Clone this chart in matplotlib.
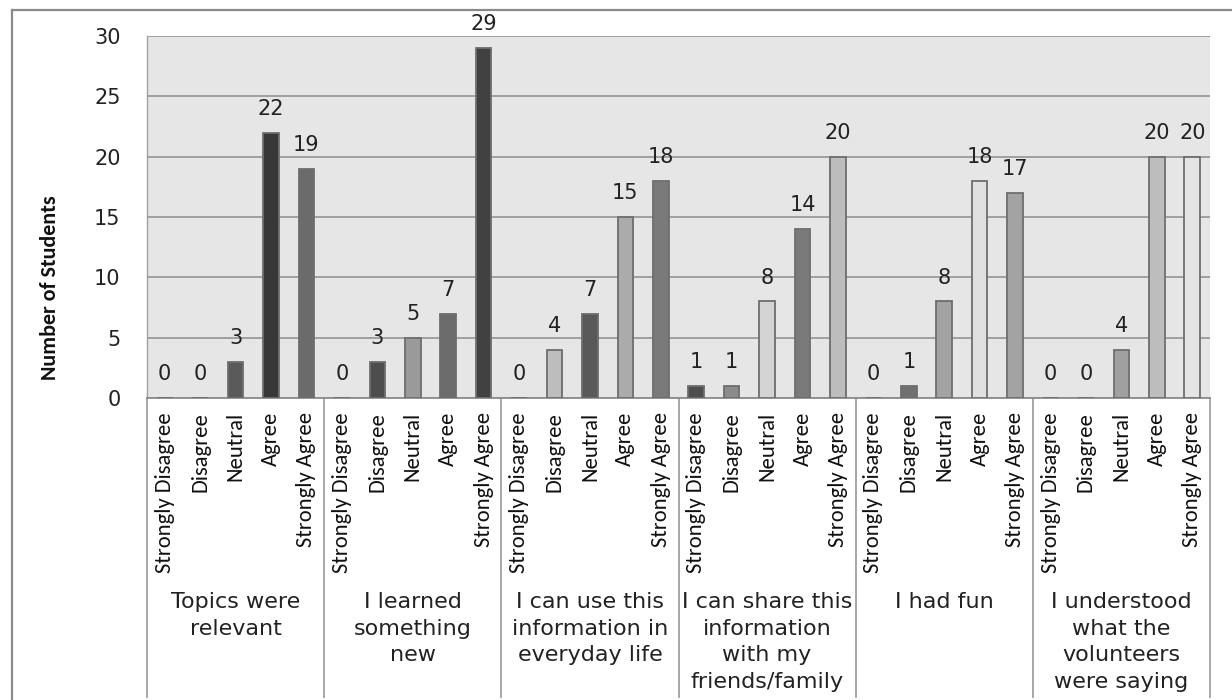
import matplotlib
matplotlib.use("Agg")
import matplotlib.pyplot as plt
from matplotlib import font_manager as fm
from matplotlib.lines import Line2D
import matplotlib.transforms as mtransforms

# ---------------- data ----------------
statements = [
    "Topics were\nrelevant",
    "I learned\nsomething\nnew",
    "I can use this\ninformation in\neveryday life",
    "I can share this\ninformation\nwith my\nfriends/family",
    "I had fun",
    "I understood\nwhat the\nvolunteers\nwere saying",
]
responses = ["Strongly Disagree", "Disagree", "Neutral", "Agree", "Strongly Agree"]
topics_relevant = [0, 0, 3, 22, 19]
learned_new = [0, 3, 5, 7, 29]
use_everyday = [0, 4, 7, 15, 18]
share_info = [1, 1, 8, 14, 20]
had_fun = [0, 1, 8, 18, 17]
understood = [0, 0, 4, 20, 20]
y_ticks = [0, 5, 10, 15, 20, 25, 30]
y_label = "Number of Students"

series = [topics_relevant, learned_new, use_everyday, share_info, had_fun, understood]
bar_colors = [
    ["#5a5a5a", "#5a5a5a", "#5a5a5a", "#383838", "#6b6b6b"],
    ["#4d4d4d", "#4d4d4d", "#9a9a9a", "#6b6b6b", "#414141"],
    ["#bdbdbd", "#bdbdbd", "#595959", "#ababab", "#7a7a7a"],
    ["#4d4d4d", "#8c8c8c", "#d4d4d4", "#7a7a7a", "#bdbdbd"],
    ["#707070", "#707070", "#a3a3a3", "#e0e0e0", "#a3a3a3"],
    ["#a0a0a0", "#a0a0a0", "#a0a0a0", "#bdbdbd", "#e4e4e4"],
]

# ---------------- fonts ----------------
flist = fm.fontManager.ttflist
names = {f.name for f in flist}
narrow_stretch = "normal"
if "Carlito" in names:
    narrow_family = "Carlito"
    tick_fs, ylab_fs = 16.2, 15.8
elif any(f.name == "DejaVu Sans" and f.stretch in ("condensed", "semi-condensed") for f in flist):
    narrow_family = "DejaVu Sans"
    narrow_stretch = "condensed"
    tick_fs, ylab_fs = 14.5, 13
else:
    narrow_family = "Lato"
    tick_fs, ylab_fs = 14, 13

W, H = 1232, 700
fig = plt.figure(figsize=(W / 100, H / 100), dpi=100)
fig.patch.set_facecolor("white")

left, right, top, bottom = 147, 1210, 36, 398
ax = fig.add_axes([left / W, 1 - bottom / H, (right - left) / W, (bottom - top) / H])
ax.set_facecolor("#e6e6e6")

n_resp = len(responses)
positions, heights, colors, labels = [], [], [], []
for g, vals in enumerate(series):
    for i, v in enumerate(vals):
        positions.append(g * n_resp + i)
        heights.append(v)
        colors.append(bar_colors[g][i])
        labels.append(responses[i])

ax.set_xlim(-0.5, len(series) * n_resp - 0.5)
ax.set_ylim(0, 30)
ax.set_yticks(y_ticks)
ax.yaxis.grid(True, color="#8c8c8c", linewidth=1.1)
ax.set_axisbelow(True)

bars = ax.bar(positions, heights, width=0.44, color=colors, edgecolor="#6e6e6e",
              linewidth=1.3, zorder=3)
for x, h in zip(positions, heights):
    ax.annotate(str(h), (x, h), xytext=(0, 10), textcoords="offset points",
                ha="center", va="bottom", fontsize=15, color="#222222",
                family="DejaVu Sans")

for s in ["top", "right"]:
    ax.spines[s].set_visible(False)
ax.spines["left"].set_color("#a0a0a0")
ax.spines["bottom"].set_color("#8c8c8c")
ax.spines["left"].set_linewidth(1.0)
ax.spines["bottom"].set_linewidth(1.3)

ax.tick_params(axis="both", length=0)
ax.tick_params(axis="y", pad=19, labelsize=15, labelcolor="#222222")
ax.set_yticklabels([str(t) for t in y_ticks], family="DejaVu Sans")
ax.set_xticks(positions)
ax.set_xticklabels(labels, rotation=90, ha="center", va="top", fontsize=tick_fs,
                   family=narrow_family, fontstretch=narrow_stretch, color="#111111")
ax.tick_params(axis="x", pad=10)

# group separators below the axis
trans = mtransforms.blended_transform_factory(ax.transData, ax.transAxes)
sep_bottom = -(697 - bottom) / (bottom - top)
for g in range(len(series) + 1):
    xs = g * n_resp - 0.5
    ax.add_line(Line2D([xs, xs], [0, sep_bottom], transform=trans, color="#a0a0a0",
                       linewidth=1.3, clip_on=False))

# category labels
for g, name in enumerate(statements):
    xc = g * n_resp + (n_resp - 1) / 2
    ax.text(xc, -(592 - bottom) / (bottom - top), name, transform=trans, ha="center",
            va="top", fontsize=16, family="DejaVu Sans", color="#222222",
            linespacing=1.42, multialignment="center")

fig.text(50 / W, 1 - 288 / H, y_label, rotation=90, ha="center", va="center",
         fontsize=ylab_fs, fontweight="bold", family=narrow_family,
         fontstretch=narrow_stretch, color="#111111")

# outer border (left and top visible)
fig.add_artist(Line2D([12 / W, 12 / W], [0, 1 - 10 / H], transform=fig.transFigure,
                      color="#8a8a8a", linewidth=1.6))
fig.add_artist(Line2D([12 / W, 1], [1 - 10 / H, 1 - 10 / H], transform=fig.transFigure,
                      color="#8a8a8a", linewidth=1.6))

fig.savefig("out.png", dpi=100, facecolor="white")
